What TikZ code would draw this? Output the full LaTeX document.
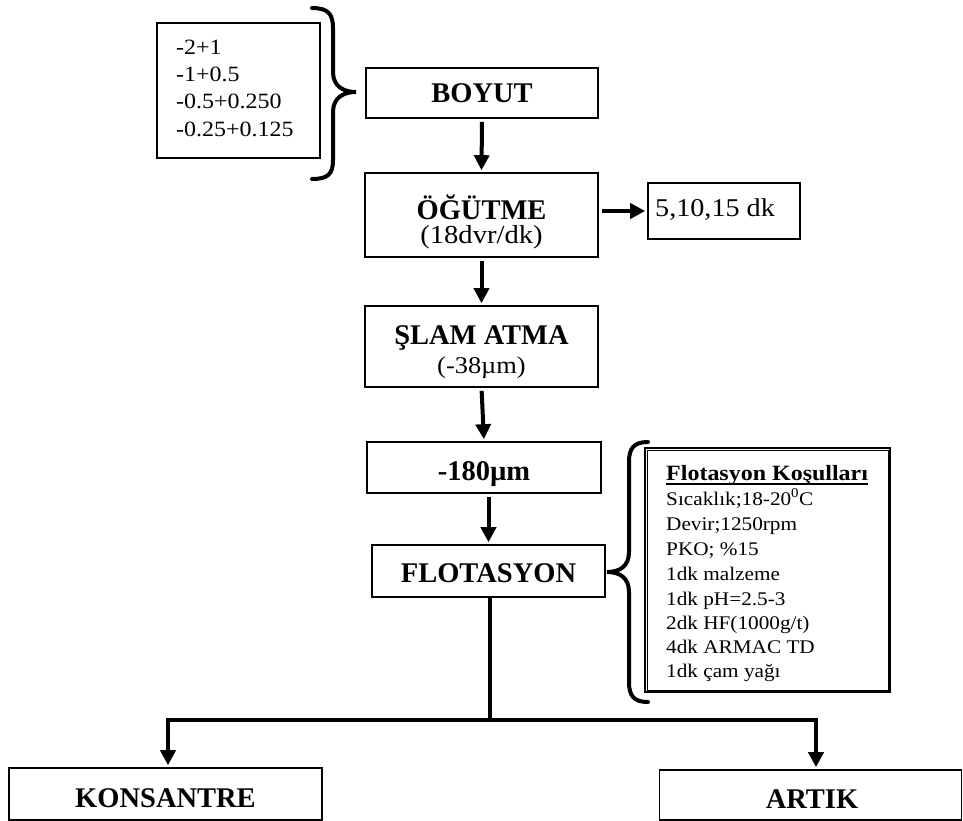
\documentclass[tikz,border=0pt]{standalone}
\usepackage{fontspec}
\setmainfont{Liberation Serif}
\newfontfamily\widefont[FakeStretch=1.1]{Liberation Serif}
\usetikzlibrary{arrows.meta}

\begin{document}
\begin{tikzpicture}[x=1pt,y=-1pt,
  box/.style={draw, line width=1.6pt, inner sep=0pt},
  txt/.style={inner sep=0pt, anchor=base},
  txtl/.style={inner sep=0pt, anchor=base west},
  bigbold/.style={font=\fontsize{28.5}{30}\selectfont\bfseries},
  subtxt/.style={font=\widefont\fontsize{26}{28}\selectfont},
  listtxt/.style={font=\widefont\fontsize{21.8}{24}\selectfont},
  condtxt/.style={font=\widefont\fontsize{19.3}{21}\selectfont},
  arr/.style={line width=4pt, -{Triangle[length=15pt,width=15pt]},
              shorten <=3pt, shorten >=2pt},
  bracepen/.style={line width=4pt, line cap=round},
]
\useasboundingbox (0,0) rectangle (963,821);

% ---- boxes
\node[box, minimum width=163pt, minimum height=135pt] (sizes) at (238.5,90.5) {};
\node[box, minimum width=232pt, minimum height=50pt]  (boyut) at (482,93) {};
\node[box, minimum width=233pt, minimum height=84pt]  (ogut)  at (481.5,215) {};
\node[box, minimum width=152pt, minimum height=56pt]  (sure)  at (724,211) {};
\node[box, minimum width=233pt, minimum height=81pt]  (slam)  at (481.5,346.5) {};
\node[box, minimum width=234pt, minimum height=51pt]  (elek)  at (484,467.5) {};
\node[box, minimum width=233pt, minimum height=52pt]  (flot)  at (488.5,571) {};
\node[box, line width=1.8pt, minimum width=245pt, minimum height=244pt] (kosul) at (767.5,570) {};
\draw[line width=0.5pt] ([shift={(3,3)}]kosul.north west) rectangle ([shift={(-3,-3)}]kosul.south east);
\node[box, minimum width=313pt, minimum height=52pt]  (kons)  at (165.5,794) {};
\node[box, minimum width=302pt, minimum height=50pt]  (artik) at (810.5,795) {};

% ---- size fractions
\node[txtl, listtxt] (s1) at (176,55)  {-2+1};
\node[txtl, listtxt] (s2) at (176,82)  {-1+0.5};
\node[txtl, listtxt] (s3) at (176,109) {-0.5+0.250};
\node[txtl, listtxt] (s4) at (176,137) {-0.25+0.125};

% ---- flow box labels
\node[txt, bigbold] (tBoyut) at (482,102.5) {BOYUT};
\node[txt, bigbold] (tOgut)  at (481.5,219) {ÖĞÜTME};
\node[txt, subtxt]  (tDevir) at (481.5,243.5) {(18dvr/dk)};
\node[txtl, font=\widefont\fontsize{25.6}{28}\selectfont] (tSure) at (655,216) {5,10,15 dk};
\node[txt, bigbold] (tSlam)  at (481.5,344) {ŞLAM ATMA};
\node[txt, font=\widefont\fontsize{24}{26}\selectfont] (tSlamAlt) at (481.5,373) {(-38µm)};
\node[txt, bigbold] (tElek)  at (484,480) {-180µm};
\node[txt, bigbold] (tFlot)  at (488.5,582) {FLOTASYON};
\node[txt, bigbold] (tKons)  at (165.5,807) {KONSANTRE};
\node[txt, bigbold] (tArtik) at (812,808) {ARTIK};

% ---- flotation conditions
\node[txtl, font=\widefont\fontsize{21.8}{24}\selectfont\bfseries] (cTitle) at (666,480) {Flotasyon Koşulları};
\draw[line width=1.6pt] ([yshift=-3.8pt]cTitle.base west) -- ([yshift=-3.8pt]cTitle.base east);
\node[txtl, condtxt] (c1) at (666,505) {Sıcaklık;18-20\textsuperscript{0}C};
\node[txtl, condtxt] (c2) at (666,530) {Devir;1250rpm};
\node[txtl, condtxt] (c3) at (666,555) {PKO; \%15};
\node[txtl, condtxt] (c4) at (666,580) {1dk malzeme};
\node[txtl, condtxt] (c5) at (666,605) {1dk pH=2.5-3};
\node[txtl, condtxt] (c6) at (666,629) {2dk HF(1000g/t)};
\node[txtl, condtxt] (c7) at (666,653) {4dk ARMAC TD};
\node[txtl, condtxt] (c8) at (666,677) {1dk çam yağı};

% ---- braces
\draw[bracepen] (312,8) .. controls (328,8) and (333,14) .. (333,28) -- (333,72)
  .. controls (333,86) and (343,92) .. (356,92)
  .. controls (343,92) and (333,98) .. (333,112) -- (333,160)
  .. controls (333,174) and (328,179) .. (312,179);
\draw[bracepen] (648,442) .. controls (634,442) and (629,448) .. (629,462) -- (629,552)
  .. controls (629,566) and (620,572) .. (607,572)
  .. controls (620,572) and (629,578) .. (629,592) -- (629,682)
  .. controls (629,696) and (634,702) .. (648,702);

% ---- connectors
\draw[arr] (boyut.south) -- (ogut.north);
\draw[arr] (sure.west -| ogut.east) -- (sure.west);
\draw[arr] (ogut.south) -- (slam.north);
\draw[arr] (slam.south) -- (elek.north);
\draw[arr] (flot.north |- elek.south) -- (flot.north);

\coordinate (jn) at (490,720);
\coordinate (kL) at (168,720);
\coordinate (kR) at (816,720);
\draw[line width=4pt] (flot.south -| jn) -- (jn);
\draw[line width=4pt, line join=miter,
      {Triangle[length=15pt,width=15pt]}-{Triangle[length=15pt,width=15pt]},
      shorten <=2pt, shorten >=2pt]
  (kons.north -| kL) -- (kL) -- (kR) -- (artik.north -| kR);
\end{tikzpicture}
\end{document}
